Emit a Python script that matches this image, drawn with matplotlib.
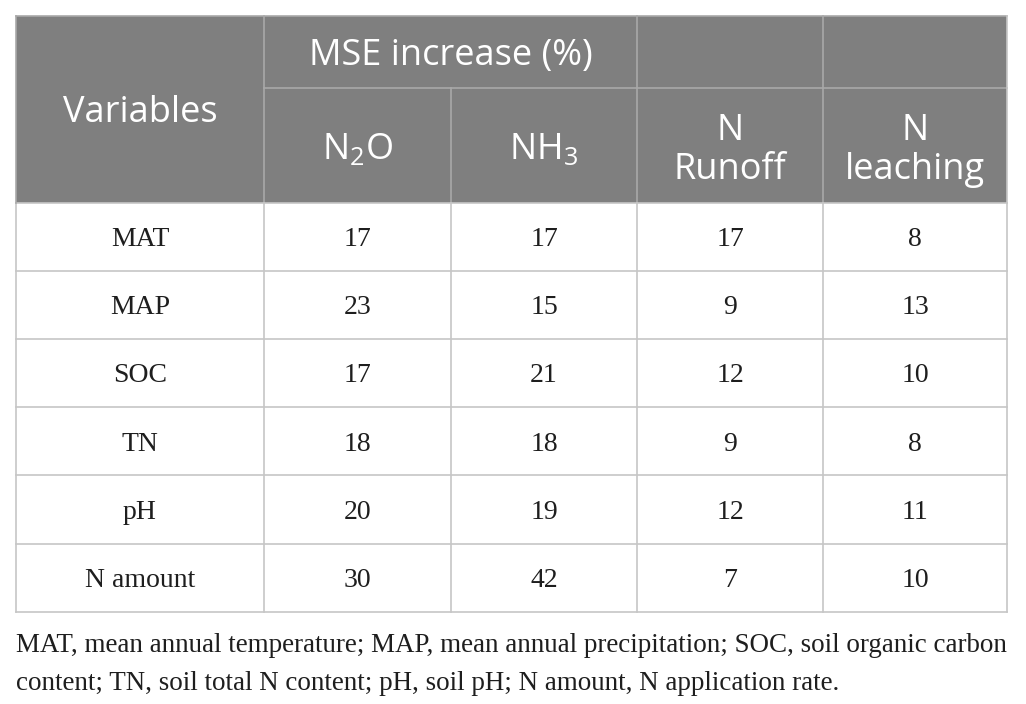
import matplotlib
matplotlib.use("Agg")
import matplotlib.pyplot as plt
from matplotlib.patches import Rectangle

variables = ["MAT", "MAP", "SOC", "TN", "pH", "N amount"]
n2o = [17, 23, 17, 18, 20, 30]
nh3 = [17, 15, 21, 18, 19, 42]
n_runoff = [17, 9, 12, 9, 12, 7]
n_leaching = [8, 13, 10, 8, 11, 10]
group_header = "MSE increase (%)"
first_header = "Variables"
col_headers = ["N$_2$O", "NH$_3$", "N\nRunoff", "N\nleaching"]
footnote = ["MAT, mean annual temperature; MAP, mean annual precipitation; SOC, soil organic carbon",
            "content; TN, soil total N content; pH, soil pH; N amount, N application rate."]

plt.rcParams['mathtext.fontset'] = 'custom'
plt.rcParams['mathtext.rm'] = 'Open Sans'
plt.rcParams['mathtext.it'] = 'Open Sans'

W, H = 1026, 704
fig = plt.figure(figsize=(W/100, H/100), dpi=100)
ax = fig.add_axes([0, 0, 1, 1])
ax.set_xlim(0, W)
ax.set_ylim(H, 0)
ax.axis('off')

xs = [16, 264, 451, 637, 823, 1007]
hy = [16, 88, 202.5]
row_h = 68.2
body_top = hy[2]
nrows = len(variables)
body_bottom = body_top + row_h * nrows

header_bg = '#7f7f7f'
hline = '#a9a9a9'
bline = '#c6c6c6'

ax.add_patch(Rectangle((xs[0], hy[0]), xs[-1]-xs[0], hy[2]-hy[0], facecolor=header_bg, edgecolor='none', zorder=1))

# header lines
ax.plot([xs[1], xs[-1]], [hy[1], hy[1]], color=hline, lw=1.2, zorder=2)
ax.plot([xs[1], xs[1]], [hy[0], hy[2]], color=hline, lw=1.2, zorder=2)
ax.plot([xs[2], xs[2]], [hy[1], hy[2]], color=hline, lw=1.2, zorder=2)
for x in xs[3:5]:
    ax.plot([x, x], [hy[0], hy[2]], color=hline, lw=1.2, zorder=2)

# body lines
for i in range(nrows + 1):
    y = body_top + i * row_h
    ax.plot([xs[0], xs[-1]], [y, y], color=bline, lw=1.2, zorder=2)
for x in xs:
    ax.plot([x, x], [body_top, body_bottom], color=bline, lw=1.2, zorder=2)
# outer border of header
ax.plot([xs[0], xs[-1]], [hy[0], hy[0]], color=hline, lw=1.2, zorder=2)
ax.plot([xs[0], xs[0]], [hy[0], hy[2]], color=hline, lw=1.2, zorder=2)
ax.plot([xs[-1], xs[-1]], [hy[0], hy[2]], color=bline, lw=1.2, zorder=2)

hfont = dict(family='Open Sans', fontsize=26, color='white', ha='center', va='center', zorder=3)
ax.text((xs[0]+xs[1])/2, (hy[0]+hy[2])/2 + 4, first_header, **hfont)
ax.text((xs[1]+xs[3])/2, (hy[0]+hy[1])/2 + 4, group_header, **hfont)
for j, lab in enumerate(col_headers):
    ax.text((xs[j+1]+xs[j+2])/2, (hy[1]+hy[2])/2 + 5, lab, linespacing=1.12, **hfont)

bfont = dict(family='Liberation Serif', fontsize=20, color='#1e1e1e', ha='center', va='center', zorder=3)
cols = [variables, n2o, nh3, n_runoff, n_leaching]
for i in range(nrows):
    yc = body_top + (i + 0.5) * row_h + 3
    for j, col in enumerate(cols):
        ax.text((xs[j]+xs[j+1])/2, yc, str(col[i]), **bfont)

ffont = dict(family='Liberation Serif', fontsize=19.45, color='#1e1e1e', ha='left', va='center')
ax.text(16, 646, footnote[0], **ffont)
ax.text(16, 684, footnote[1], **ffont)

fig.savefig('out.png', dpi=100, facecolor='white')
